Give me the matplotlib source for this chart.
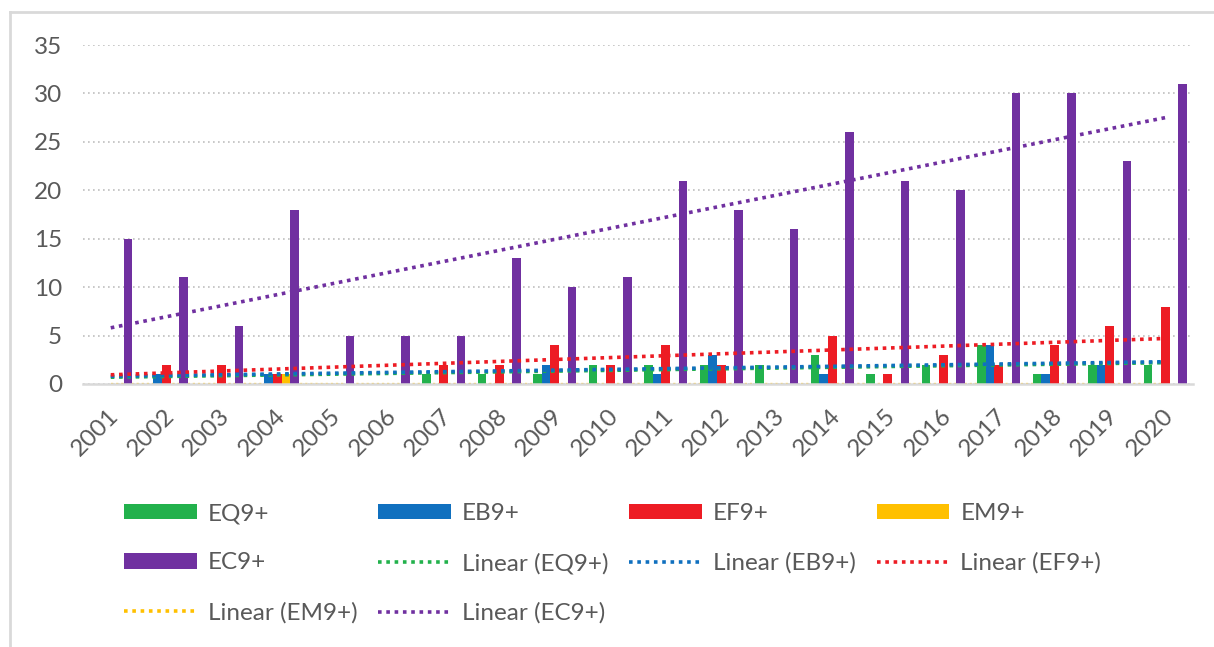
import matplotlib
matplotlib.use("Agg")
import matplotlib.pyplot as plt
import matplotlib.transforms as mtransforms
from matplotlib.lines import Line2D
from matplotlib.patches import Patch
import numpy as np

plt.rcParams['font.family'] = ['Lato', 'DejaVu Sans']

# ---------------- data ----------------
years = [str(y) for y in range(2001, 2021)]
series_names = ['EQ9+', 'EB9+', 'EF9+', 'EM9+', 'EC9+']
eq9 = [0, 0, 0, 0, 0, 0, 1, 1, 1, 2, 2, 2, 2, 3, 1, 2, 4, 1, 2, 2]
eb9 = [0, 1, 0, 1, 0, 0, 0, 0, 2, 0, 1, 3, 0, 1, 0, 0, 4, 1, 2, 0]
ef9 = [0, 2, 2, 1, 0, 0, 2, 2, 4, 2, 4, 2, 0, 5, 1, 3, 2, 4, 6, 8]
em9 = [0, 0, 0, 1, 0, 0, 0, 0, 0, 0, 0, 0, 0, 0, 0, 0, 0, 0, 0, 0]
ec9 = [15, 11, 6, 18, 5, 5, 5, 13, 10, 11, 21, 18, 16, 26, 21, 20, 30, 30, 23, 31]
# linear trend lines (value at 2001, value at 2020)
trend_start = [0.7, 0.8, 0.95, 0.0, 5.8]
trend_end = [2.2, 2.3, 4.7, 0.0, 27.5]
y_ticks = [0, 5, 10, 15, 20, 25, 30, 35]

series = [eq9, eb9, ef9, em9, ec9]
colors = ['#22b14c', '#1070bf', '#ed1c24', '#ffc000', '#7030a0']
text_color = '#595959'

W, H = 1214, 647
fig = plt.figure(figsize=(W / 100, H / 100), dpi=100)
ax = fig.add_axes([83 / W, 1 - 384 / H, (1193 - 83) / W, (384 - 45) / H])

x = np.arange(len(years))
bw = 0.1535
for i, (vals, c) in enumerate(zip(series, colors)):
    ax.bar(x + (i - 2) * bw, vals, bw, color=c, zorder=2, linewidth=0)

dot = (0, (1, 1.3))
for i, c in enumerate(colors):
    ax.plot([x[0], x[-1]], [trend_start[i], trend_end[i]], linestyle=dot,
            lw=2.6 if i != 3 else 1.6, color=c, zorder=4 if i != 3 else 1.5)

ax.set_xlim(-0.5, len(years) - 0.5)
ax.set_ylim(0, 35)
ax.set_yticks(y_ticks)
ax.yaxis.grid(True, linestyle=(0, (1, 2)), color='#bfbfbf', lw=1.2, zorder=0)
ax.set_axisbelow(True)
for s in ['top', 'right', 'left']:
    ax.spines[s].set_visible(False)
ax.spines['bottom'].set_color('#d9d9d9')
ax.spines['bottom'].set_linewidth(1.8)
ax.spines['bottom'].set_zorder(3)
ax.tick_params(length=0)
ax.tick_params(axis='y', pad=15, labelsize=17.5, labelcolor=text_color)
ax.set_xticks(x)
ax.set_xticklabels(years, rotation=45, ha='right', va='top', fontsize=17.5,
                   color=text_color)
ax.tick_params(axis='x', pad=15)
offset = mtransforms.ScaledTranslation(12 / 100, 0, fig.dpi_scale_trans)
for lab in ax.get_xticklabels():
    lab.set_transform(lab.get_transform() + offset)

# ---------------- legend ----------------
handles = [Patch(facecolor=c, edgecolor='none') for c in colors]
handles += [Line2D([0], [1], color=c, linestyle=dot, lw=2.6) for c in colors]
labels = series_names + ['Linear (%s)' % n for n in series_names]
order = [0, 4, 8, 1, 5, 9, 2, 6, 3, 7]
leg = fig.legend([handles[i] for i in order], [labels[i] for i in order],
                 ncol=4, loc='upper left', bbox_to_anchor=(124 / W, 1 - 503 / H),
                 frameon=False, fontsize=17.5, handlelength=3.0, handleheight=0.62,
                 handletextpad=0.45, columnspacing=0.85, labelspacing=1.17,
                 borderpad=0, borderaxespad=0)
for t in leg.get_texts():
    t.set_color(text_color)

# chart frame
fig.add_artist(Line2D([10 / W, 10 / W], [0, 1 - 12 / H], transform=fig.transFigure,
                      color='#d9d9d9', lw=2))
fig.add_artist(Line2D([10 / W, 1], [1 - 12 / H, 1 - 12 / H], transform=fig.transFigure,
                      color='#d9d9d9', lw=2))

fig.savefig('out.png', dpi=100, facecolor='white')
